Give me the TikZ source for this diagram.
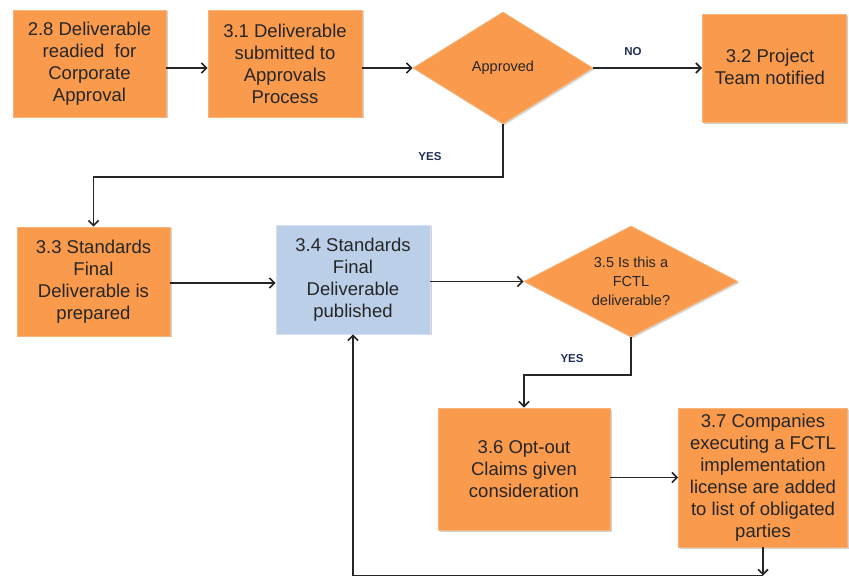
\documentclass[tikz,border=0pt]{standalone}
\usepackage{fontspec}
\setmainfont{Liberation Sans}
\usetikzlibrary{shapes.geometric,arrows.meta,shadows,calc}
\definecolor{boxorange}{HTML}{F99A4C}
\definecolor{boxedge}{HTML}{F5B57A}
\definecolor{boxblue}{HTML}{BBD0E8}
\definecolor{blueedge}{HTML}{D3E1F1}
\definecolor{txt}{HTML}{262626}
\definecolor{lbl}{HTML}{1F2F55}
\tikzset{
  x=1pt, y=-1pt,
  procbox/.style={rectangle, fill=boxorange, draw=boxedge, line width=0.8pt, text=txt,
    align=center, inner sep=2pt,
    font=\fontsize{18.5}{22}\selectfont,
    drop shadow={shadow xshift=1.5pt, shadow yshift=-1.5pt, opacity=0.35, fill=gray}},
  bluebox/.style={procbox, fill=boxblue, draw=blueedge},
  decide/.style={diamond, fill=boxorange, draw=boxedge, line width=0.8pt, text=txt,
    align=center, inner sep=0pt, aspect=1.6,
    drop shadow={shadow xshift=1.5pt, shadow yshift=-1.5pt, opacity=0.3, fill=gray}},
  conn/.style={line width=1.9pt, draw=black!85, -{Straight Barb[length=5pt,width=10pt,line width=1.6pt]}},
  yn/.style={font=\fontsize{11.5}{13}\selectfont\bfseries, text=lbl}
}
\begin{document}
\begin{tikzpicture}
\useasboundingbox (0,0) rectangle (849,577);
\fill[white] (0,0) rectangle (849,577);

\node[procbox, minimum width=153pt, minimum height=107pt] (n28) at (89.5,63.5)
  {2.8 Deliverable\\readied\ \ for\\Corporate\\Approval};
\node[procbox, minimum width=154pt, minimum height=107pt] (n31) at (285,63.5)
  {3.1 Deliverable\\submitted to\\Approvals\\Process};
\node[decide, minimum width=180pt, minimum height=112pt,
  font=\fontsize{14.5}{17}\selectfont] (dapp) at (503,68) {Approved};
\node[procbox, minimum width=144pt, minimum height=108pt, anchor=north west] (n32) at (702,14) {};
\node[font=\fontsize{18.5}{22}\selectfont, text=txt, align=center] (t32) at (770,67)
  {3.2 Project\\Team notified};

\node[procbox, minimum width=153pt, minimum height=109pt] (n33) at (93.5,281.5)
  {3.3 Standards\\Final\\Deliverable is\\prepared};
\node[bluebox, minimum width=154pt, minimum height=109pt] (n34) at (353,279.5)
  {3.4 Standards\\Final\\Deliverable\\published};
\node[decide, minimum width=214pt, minimum height=111pt,
  font=\fontsize{14.5}{19}\selectfont] (d35) at (631,281.5)
  {3.5 Is this a\\FCTL\\deliverable?};

\node[procbox, minimum width=172pt, minimum height=122pt] (n36) at (524,469)
  {3.6 Opt-out\\Claims given\\consideration};
\node[procbox, minimum width=169pt, minimum height=139pt] (n37) at (763,477.5)
  {3.7 Companies\\executing a FCTL\\implementation\\license are added\\to list of obligated\\parties};

% connectors
\draw[conn] (n28.east |- dapp) -- (n31.west |- dapp);
\draw[conn] (n31.east |- dapp) -- (dapp.west);
\draw[conn] (dapp.east) -- (n32.west |- dapp);
\node[yn] (lno) at (633,52) {NO};

\coordinate (ya) at (n33.north |- 0,177);
\draw[conn] (dapp.south) |- (ya) -- (n33.north);
\node[yn] (lyes1) at (430,157) {YES};

\draw[conn] (n33.east |- 0,283) -- (n34.west |- 0,283);
\draw[conn] (n34.east |- d35) -- (d35.west);

\coordinate (yb) at (n36.north |- 0,375);
\draw[conn] (d35.south) |- (yb) -- (n36.north);
\node[yn] (lyes2) at (572,359) {YES};

\draw[conn] (n36.east |- n37.west) -- (n37.west);

\coordinate (b1) at (n37.south |- 0,575.5);
\coordinate (b2) at (n34.south |- 0,575.5);
\draw[conn] (n37.south) -- (b1);
\draw[conn] (b1) -- (b2) -- (n34.south);
\end{tikzpicture}
\end{document}
